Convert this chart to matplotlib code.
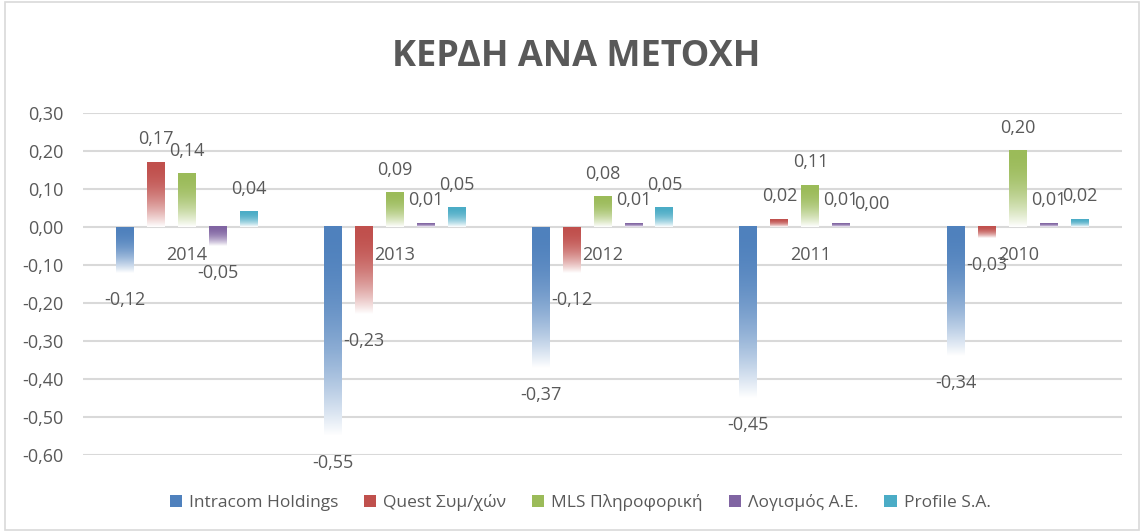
import numpy as np
import matplotlib
matplotlib.use("Agg")
import matplotlib.pyplot as plt
from matplotlib.colors import to_rgb
from matplotlib.patches import Rectangle

plt.rcParams['font.family'] = ['Open Sans', 'DejaVu Sans']

title = "ΚΕΡΔΗ ΑΝΑ ΜΕΤΟΧΗ"
years = ["2014", "2013", "2012", "2011", "2010"]
series_names = ["Intracom Holdings", "Quest Συμ/χών", "MLS Πληροφορική", "Λογισμός Α.Ε.", "Profile S.A."]
intracom = [-0.12, -0.55, -0.37, -0.45, -0.34]
quest = [0.17, -0.23, -0.12, 0.02, -0.03]
mls = [0.14, 0.09, 0.08, 0.11, 0.20]
logismos = [-0.05, 0.01, 0.01, 0.01, 0.01]
profile = [0.04, 0.05, 0.05, 0.00, 0.02]
yticks = [0.30, 0.20, 0.10, 0.00, -0.10, -0.20, -0.30, -0.40, -0.50, -0.60]
colors = ["#4f81bd", "#c0504d", "#9bbb59", "#8064a2", "#4bacc6"]

series = [intracom, quest, mls, logismos, profile]
txt = "#595959"
grid_c = "#d9d9d9"

fig = plt.figure(figsize=(11.44, 5.32), dpi=100)
ax = fig.add_axes([0.0726, 0.1447, 0.9082, 0.643])

x = np.arange(len(years))
step = 0.149
width = 0.0865
ymin, ymax = -0.60, 0.30

def fmt(v):
    return f"{v:.2f}".replace(".", ",")

for i, (vals, col, name) in enumerate(zip(series, colors, series_names)):
    pos = x + (i - 2) * step
    bars = ax.bar(pos, vals, width, color='none', edgecolor='none', label=name, zorder=3)
    rgb = np.array(to_rgb(col))
    for rect, v in zip(bars.patches, vals):
        bx, by, bw, bh = rect.get_x(), rect.get_y(), rect.get_width(), rect.get_height()
        lo, hi = min(by, by + bh), max(by, by + bh)
        if hi - lo > 0:
            n = 200
            t = np.linspace(0, 1, n)[:, None]
            f = t ** 2.0
            img = rgb[None, :] * (1 - f) + np.ones(3)[None, :] * f
            img = img[:, None, :]
            ax.imshow(img, extent=[bx, bx + bw, lo, hi], origin='upper',
                      aspect='auto', zorder=3, interpolation='bilinear')
        off = 16.5 if v >= 0 else -19.5
        ax.annotate(fmt(v), (bx + bw / 2, v), xytext=(0, off), textcoords='offset points',
                    ha='center', va='center', fontsize=13, color=txt, zorder=5)

for xi, yr in zip(x, years):
    ax.annotate(yr, (xi, 0), xytext=(0, -20.5), textcoords='offset points',
                ha='center', va='center', fontsize=13, color=txt, zorder=5)

ax.set_xlim(-0.5, len(years) - 0.5)
ax.set_ylim(ymin, ymax)
ax.set_yticks(yticks)
ax.set_yticklabels([fmt(v) for v in yticks], fontsize=13, color=txt)
ax.tick_params(axis='y', length=0, pad=14)
ax.set_xticks([])
for s in ax.spines.values():
    s.set_visible(False)
ax.grid(axis='y', color=grid_c, linewidth=1.5, zorder=0)
ax.set_axisbelow(True)

fig.text(0.504, 0.893, title, ha='center', va='center', fontsize=26,
         fontweight='bold', color=txt)

handles = [Rectangle((0, 0), 1, 1, facecolor=c, edgecolor='none') for c in colors]
leg = fig.legend(handles, series_names, loc='center', bbox_to_anchor=(0.507, 0.056),
                 ncol=5, frameon=False, fontsize=12.5, handlelength=0.7, handleheight=0.7,
                 handletextpad=0.4, columnspacing=1.5, labelcolor=txt)

fig.patches.append(Rectangle((0.004, 0.004), 0.992, 0.992, transform=fig.transFigure,
                             fill=False, edgecolor=grid_c, linewidth=1.2))

fig.savefig("out.png", dpi=100)
